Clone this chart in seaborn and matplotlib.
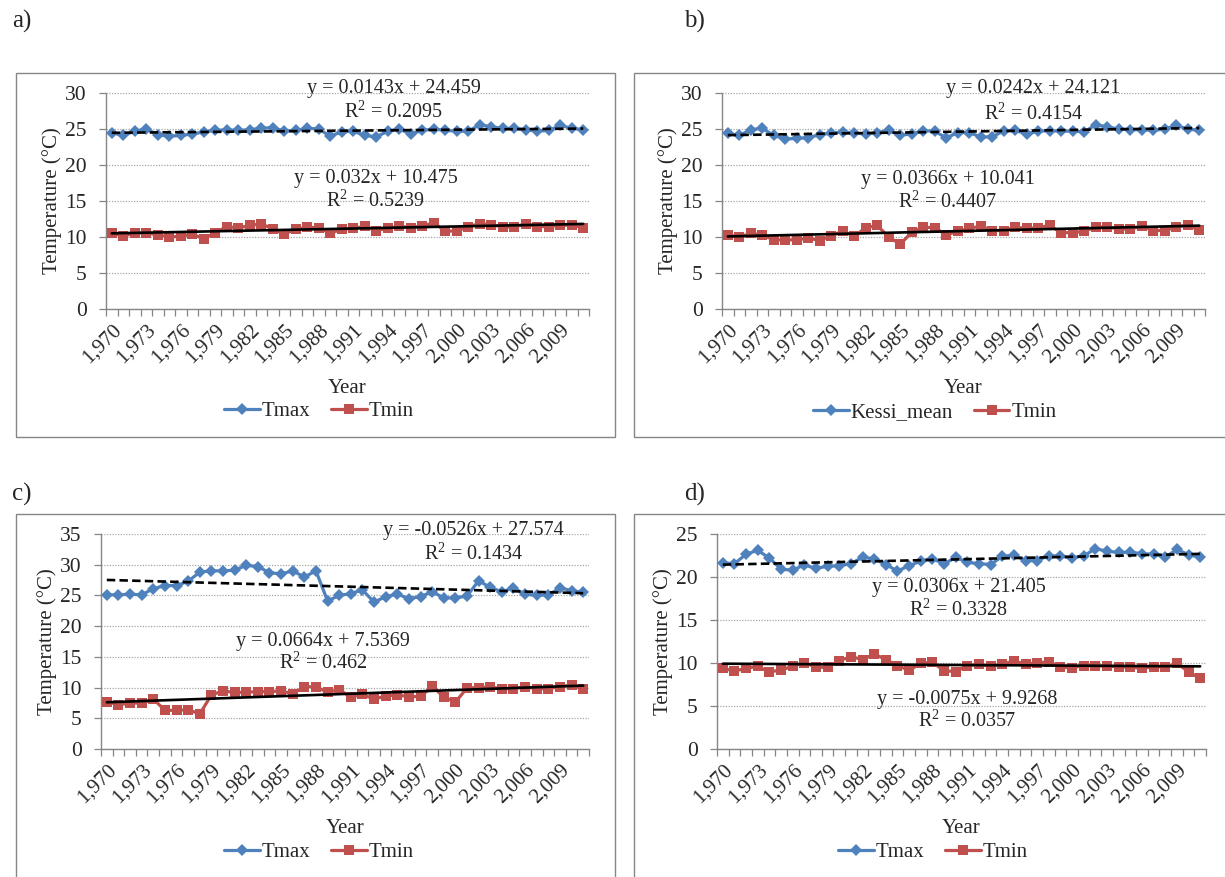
import matplotlib
matplotlib.use("Agg")
import matplotlib.pyplot as plt
from matplotlib.lines import Line2D
from matplotlib.patches import Rectangle
from matplotlib.ticker import FixedLocator, MultipleLocator
import seaborn as sns

sns.set_theme(style="white")
plt.rcParams["font.family"] = ["Liberation Serif", "DejaVu Serif"]
plt.rcParams["mathtext.fontset"] = "custom"
plt.rcParams["mathtext.rm"] = "Liberation Serif"

# ---------------------------------------------------------------- data
years = list(range(1970, 2012))
label_years = list(range(1970, 2010, 3))

tmax_a = [24.5, 24.1, 24.7, 25.0, 24.2, 24.0, 24.1, 24.3, 24.6, 24.8,
          24.9, 24.8, 24.9, 25.1, 25.2, 24.7, 24.8, 25.1, 25.0, 24.0,
          24.6, 24.7, 24.1, 23.9, 24.7, 25.0, 24.3, 24.8, 25.0, 24.8,
          24.7, 24.7, 25.6, 25.3, 25.1, 25.1, 24.9, 24.7, 24.8, 25.5,
          25.1, 24.9]
tmin_a = [10.6, 10.1, 10.55, 10.55, 10.3, 10.0, 10.1, 10.4, 9.75, 10.6,
          11.45, 11.25, 11.6, 11.85, 11.1, 10.4, 11.1, 11.35, 11.3, 10.5,
          11.1, 11.2, 11.5, 10.9, 11.2, 11.5, 11.3, 11.55, 11.95, 10.85,
          10.8, 11.45, 11.85, 11.7, 11.4, 11.4, 11.8, 11.45, 11.45, 11.65,
          11.65, 11.3]

kessi_b = [24.4, 24.1, 24.9, 25.1, 24.1, 23.6, 23.7, 23.8, 24.2, 24.45,
           24.6, 24.45, 24.3, 24.5, 24.8, 24.1, 24.35, 24.75, 24.7, 23.75,
           24.5, 24.5, 23.9, 23.9, 24.75, 24.8, 24.3, 24.7, 24.75, 24.7,
           24.7, 24.6, 25.6, 25.3, 25.0, 24.9, 24.9, 24.8, 25.0, 25.5,
           25.0, 24.8]
tmin_b = [10.3, 10.0, 10.5, 10.3, 9.6, 9.6, 9.6, 9.85, 9.5, 10.2,
          10.8, 10.1, 11.3, 11.6, 10.0, 9.0, 10.65, 11.35, 11.3, 10.3,
          10.8, 11.2, 11.5, 10.9, 10.9, 11.35, 11.2, 11.3, 11.6, 10.6,
          10.6, 10.8, 11.4, 11.4, 11.1, 11.1, 11.5, 10.9, 10.9, 11.4,
          11.65, 11.0]

tmax_c = [25.1, 25.1, 25.2, 25.1, 26.1, 26.6, 26.6, 27.3, 28.8, 29.0,
          29.0, 29.1, 29.9, 29.7, 28.7, 28.5, 29.0, 28.0, 29.0, 24.1,
          25.0, 25.3, 25.9, 23.9, 24.8, 25.2, 24.5, 24.8, 25.6, 24.6,
          24.6, 24.9, 27.4, 26.3, 25.6, 26.2, 25.2, 25.0, 25.1, 26.2,
          25.8, 25.5]
tmin_c = [7.7, 7.2, 7.5, 7.45, 8.15, 6.3, 6.3, 6.4, 5.7, 8.8,
          9.45, 9.2, 9.25, 9.35, 9.35, 9.45, 9.0, 10.15, 10.1, 9.25,
          9.65, 8.45, 8.9, 8.1, 8.65, 8.8, 8.5, 8.55, 10.2, 8.5,
          7.6, 9.95, 10.0, 10.1, 9.8, 9.8, 10.15, 9.8, 9.8, 10.15,
          10.4, 9.75]

tmax_d = [21.65, 21.55, 22.65, 23.1, 22.2, 20.9, 20.8, 21.4, 21.0, 21.25,
          21.3, 21.55, 22.3, 22.1, 21.45, 20.7, 21.3, 21.85, 22.15, 21.5,
          22.3, 21.7, 21.55, 21.45, 22.4, 22.55, 21.9, 21.9, 22.5, 22.4,
          22.25, 22.45, 23.3, 23.0, 22.85, 22.9, 22.7, 22.65, 22.3, 23.2,
          22.6, 22.3]
tmin_d = [9.4, 9.05, 9.4, 9.6, 8.95, 9.2, 9.6, 10.05, 9.5, 9.5,
          10.25, 10.75, 10.4, 11.05, 10.4, 9.7, 9.15, 9.95, 10.1, 9.1,
          9.0, 9.7, 9.85, 9.6, 9.9, 10.2, 9.9, 10.0, 10.15, 9.5,
          9.45, 9.7, 9.65, 9.65, 9.55, 9.5, 9.4, 9.55, 9.55, 9.95,
          9.0, 8.2]

# linear trend coefficients (x = 1 for the first year)
trend_upper = [(0.0143, 24.459, "0.2095"), (0.0242, 24.121, "0.4154"),
               (-0.0526, 27.574, "0.1434"), (0.0306, 21.405, "0.3328")]
trend_lower = [(0.032, 10.475, "0.5239"), (0.0366, 10.041, "0.4407"),
               (0.0664, 7.5369, "0.462"), (-0.0075, 9.9268, "0.0357")]
upper_names = ["Tmax", "Kessi_mean", "Tmax", "Tmax"]
panel_tags = ["a)", "b)", "c)", "d)"]
y_tops = [30, 30, 35, 25]

# ---------------------------------------------------------------- layout
W, H = 1225, 877
BLUE, RED = "#4F81BD", "#C0504D"
AXIS_GREY = "#868686"
FS = 14.5
TICK_FS = 15.5


def rect(l, r, t, b):
    return [l / W, 1 - b / H, (r - l) / W, (b - t) / H]


axes_px = [(106, 589, 93, 309), (722, 1205, 93, 309),
           (101, 589, 534, 749), (717, 1206, 534, 749)]
boxes_px = [(16, 615, 73, 437), (634, 1240, 73, 437),
            (16, 615, 514, 900), (634, 1240, 514, 900)]
tag_px = [(12, 21), (684, 21), (12, 494), (684, 494)]
legend_px = [(319, 411), (935, 412), (319, 852), (933, 852)]
# equation anchor points in axes fractions: (x, y_eq, y_r2)
eq_upper = [(0.596, 1.019, 0.913), (0.645, 1.023, 0.905),
            (0.763, 1.014, 0.909), (0.495, 0.753, 0.648)]
eq_lower = [(0.559, 0.603, 0.502), (0.467, 0.601, 0.495),
            (0.455, 0.500, 0.400), (0.512, 0.232, 0.132)]

fig = plt.figure(figsize=(W / 100, H / 100), dpi=100)
fig.patch.set_facecolor("white")

series_upper = [tmax_a, kessi_b, tmax_c, tmax_d]
series_lower = [tmin_a, tmin_b, tmin_c, tmin_d]

for k in range(4):
    # chart frame
    bl, br, bt, bb = boxes_px[k]
    fig.patches.append(Rectangle((bl / W, 1 - bb / H), (br - bl) / W, (bb - bt) / H,
                                 transform=fig.transFigure, fill=False,
                                 edgecolor=AXIS_GREY, linewidth=1.0, zorder=0))
    fig.text(tag_px[k][0] / W, 1 - tag_px[k][1] / H, panel_tags[k],
             fontsize=18, ha="left", va="center")

    ax = fig.add_axes(rect(*axes_px[k]))
    ax.set_facecolor("none")

    # horizontal dotted gridlines
    top = y_tops[k]
    ax.set_ylim(0, top)
    ax.yaxis.set_major_locator(MultipleLocator(5))
    ax.grid(axis="y", color="#A6A6A6", linestyle=(0, (1, 1.2)), linewidth=0.9)
    ax.set_axisbelow(True)

    up = series_upper[k]
    lo = series_lower[k]
    sns.lineplot(x=years, y=up, ax=ax, color=BLUE, linewidth=2.3,
                 marker="D", markersize=6.5, markeredgewidth=0, zorder=3)
    sns.lineplot(x=years, y=lo, ax=ax, color=RED, linewidth=2.3,
                 marker="s", markersize=7.3, markeredgewidth=0, zorder=3)

    # trend lines from the fitted equations
    su, iu, ru = trend_upper[k]
    sl, il, rl = trend_lower[k]
    xs = [years[0], years[-1]]
    sns.lineplot(x=xs, y=[su * (x - 1969) + iu for x in xs], ax=ax,
                 color="black", linewidth=1.9, linestyle=(0, (3.2, 1.6)), zorder=4)
    sns.lineplot(x=xs, y=[sl * (x - 1969) + il for x in xs], ax=ax,
                 color="black", linewidth=1.9, zorder=4)

    def eq_text(slope, inter):
        sign = "-" if slope < 0 else ""
        return f"y = {sign}{abs(slope):g}x + {inter:g}"

    ex, ey, er = eq_upper[k]
    ax.text(ex, ey, eq_text(su, iu), transform=ax.transAxes, ha="center",
            va="center", fontsize=FS, zorder=5)
    ax.text(ex, er, f"R$^2$ = {ru}", transform=ax.transAxes, ha="center",
            va="center", fontsize=FS, zorder=5)
    ex, ey, er = eq_lower[k]
    ax.text(ex, ey, eq_text(sl, il), transform=ax.transAxes, ha="center",
            va="center", fontsize=FS, zorder=5)
    ax.text(ex, er, f"R$^2$ = {rl}", transform=ax.transAxes, ha="center",
            va="center", fontsize=FS, zorder=5)

    # category axis: tick marks between years, labels every third year
    ax.set_xlim(years[0] - 0.5, years[-1] + 0.5)
    ax.xaxis.set_major_locator(FixedLocator(label_years))
    ax.set_xticklabels([f"{y:,}" for y in label_years], rotation=45,
                       ha="right", va="top", rotation_mode="anchor",
                       fontsize=15)
    ax.xaxis.set_minor_locator(FixedLocator([y - 0.5 for y in years] + [years[-1] + 0.5]))
    ax.tick_params(axis="x", which="major", length=0, pad=8)
    ax.tick_params(axis="x", which="minor", length=5, width=0.9,
                   color=AXIS_GREY, direction="out", bottom=True)
    ax.tick_params(axis="y", which="major", length=5, width=0.9,
                   color=AXIS_GREY, direction="out", left=True,
                   labelsize=TICK_FS, pad=9)

    for side in ("top", "right"):
        ax.spines[side].set_visible(False)
    for side in ("left", "bottom"):
        ax.spines[side].set_color(AXIS_GREY)
        ax.spines[side].set_linewidth(1.0)

    ax.set_xlabel("Year", fontsize=15)
    ax.set_ylabel("Temperature (\u00b0C)", fontsize=15, labelpad=2)
    ax.xaxis.set_label_coords(0.5, -0.325)

    handles = [Line2D([], [], color=BLUE, linewidth=2.3, marker="D",
                      markersize=6.5, markeredgewidth=0),
               Line2D([], [], color=RED, linewidth=2.3, marker="s",
                      markersize=7.3, markeredgewidth=0)]
    lx, ly = legend_px[k]
    fig.legend(handles, [upper_names[k], "Tmin"], loc="center",
               bbox_to_anchor=(lx / W, 1 - ly / H), ncol=2, frameon=False,
               fontsize=15, handlelength=1.7, handletextpad=0.1,
               columnspacing=1.0, borderpad=0, borderaxespad=0)

fig.savefig("out.png", dpi=100, facecolor="white")
